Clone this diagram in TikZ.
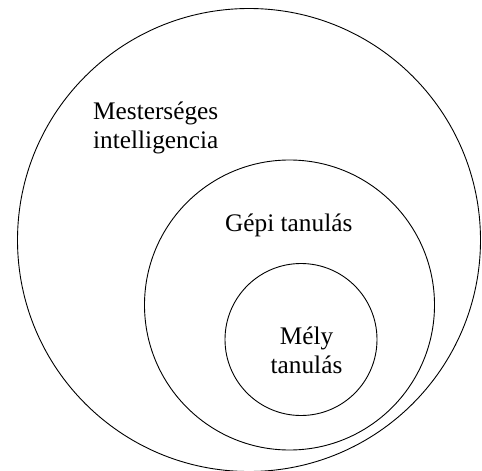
\documentclass[tikz,border=0pt]{standalone}
\usepackage{fontspec}
\setmainfont{Liberation Serif}
\begin{document}
\begin{tikzpicture}[x=1pt,y=-1pt,
  ring/.style={draw=black, line width=0.9pt},
  label/.style={inner sep=0pt, font=\fontsize{25.3}{28.8}\selectfont}]
\useasboundingbox (0,0) rectangle (482,471);
% nested fields
\draw[ring] (249,240) circle[radius=231.5];
\draw[ring] (289.5,305) circle[radius=145];
\draw[ring] (301,339.5) circle[radius=76];
% field names (anchor base = baseline of the last line)
\node[label, anchor=base west, align=left] (ai) at (93,148) {Mesterséges\\intelligencia};
\node[label, anchor=base west] (ml) at (225,231) {Gépi tanulás};
\node[label, anchor=base, align=center] (dl) at (306.5,373) {Mély\\tanulás};
\end{tikzpicture}
\end{document}
